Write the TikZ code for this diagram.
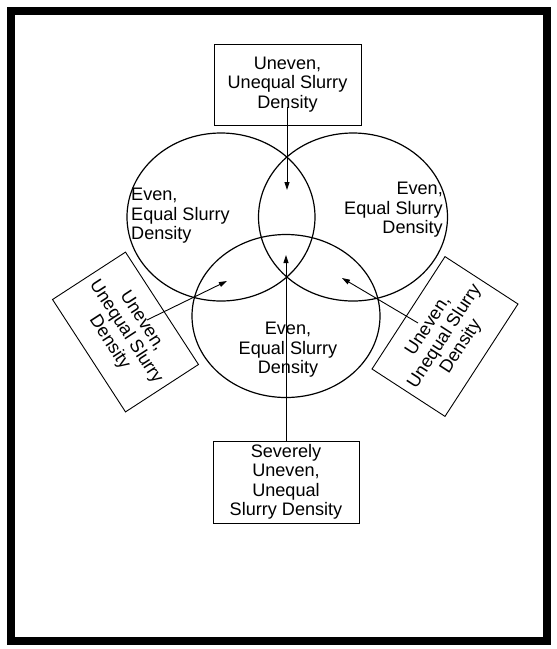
\documentclass[tikz,border=0pt]{standalone}
\usepackage{fontspec}
\setmainfont{Liberation Sans}
\usetikzlibrary{arrows.meta}

\tikzset{
  ring/.style={line width=1.2pt},
  lbl/.style={font=\fontsize{18.1}{19.5}\selectfont, inner sep=0pt},
  card/.style={draw, line width=0.9pt, font=\fontsize{18.1}{19.5}\selectfont, align=center, inner sep=0pt},
  arr/.style={-{Stealth[length=8pt, width=5pt, inset=0pt]}, line width=0.9pt}
}

\begin{document}
\begin{tikzpicture}[x=1pt,y=-1pt]
\useasboundingbox (0,0) rectangle (557,649);
\draw[line width=8pt] (11,11) rectangle (547,641);

\coordinate (L) at (221,217);
\coordinate (R) at (353,217);
\coordinate (B) at (286,316);

% the three circles
\draw[ring] (L) ellipse [x radius=94pt, y radius=84pt];
\draw[ring] (R) ellipse [x radius=94.5pt, y radius=84pt];
\draw[ring] (B) ellipse [x radius=94pt, y radius=81.5pt];

\node[lbl, anchor=west, align=left] (Ltxt) at (131,216) {Even,\\Equal Slurry\\Density};
\node[lbl, anchor=east, align=right] (Rtxt) at (443,210) {Even,\\Equal Slurry\\Density};
\node[lbl, align=center] (Btxt) at (288,350) {Even,\\Equal Slurry\\Density};

% boxes
\node[card, minimum width=147pt, minimum height=81pt] (top) at (287.5,84.5) {Uneven,\\Unequal Slurry\\Density};
\node[card, minimum width=146pt, minimum height=82pt] (bot) at (286,482) {Severely\\Uneven,\\Unequal\\Slurry Density};
\node[card, rotate=-57, minimum width=134pt, minimum height=87pt] (lbox) at (125.5,332) {Uneven,\\Unequal Slurry\\Density};
\node[card, rotate=57, minimum width=134pt, minimum height=87pt] (rbox) at (445,336.5) {Uneven,\\Unequal Slurry\\Density};

% arrows
\coordinate (topS) at (287,107);
\coordinate (topE) at (287,190);
\coordinate (botE) at (286,255);
\coordinate (lS) at (147,320);
\coordinate (lE) at (227,281);
\coordinate (rS) at (418,323);
\coordinate (rE) at (342,278);

\draw[arr] (topS) -- (topE);
\draw[arr] (bot.north) -- (botE);
\draw[arr] (lS) -- (lE);
\draw[arr] (rS) -- (rE);
\end{tikzpicture}
\end{document}
